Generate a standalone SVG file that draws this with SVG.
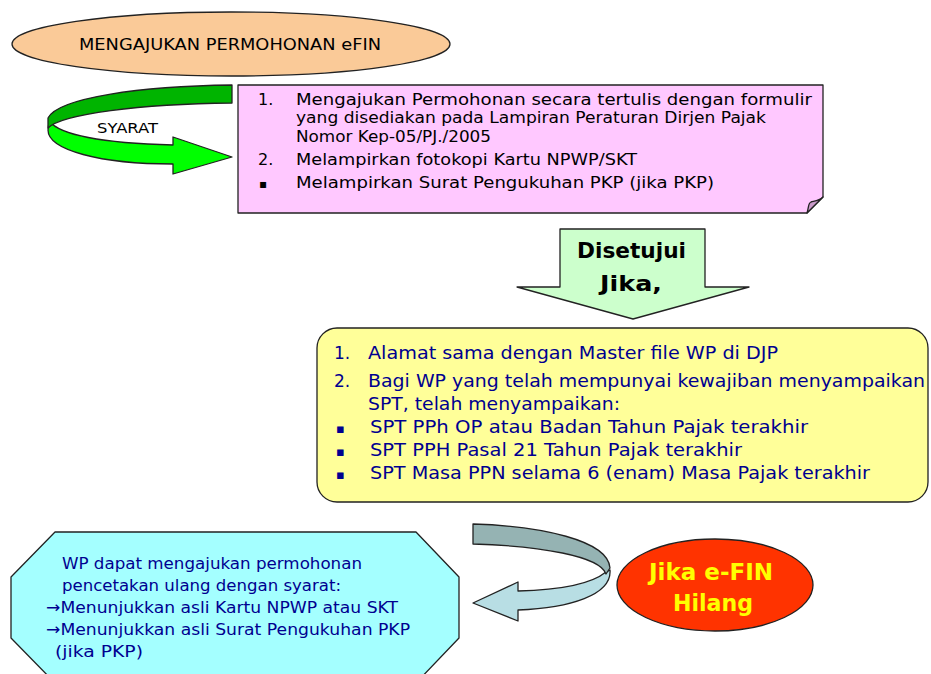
<svg xmlns="http://www.w3.org/2000/svg" width="931" height="674" viewBox="0 0 931 674">
<style>
.t{font-family:"DejaVu Sans","Liberation Sans",sans-serif;}
.blk{fill:#000;}
.nv{fill:#000090;}
.ln{stroke:#222;stroke-width:1.3;stroke-linejoin:round;}
.b{font-weight:bold;}
</style>
<rect width="931" height="674" fill="#fff"/>
<g id="connectors">
  <g id="syarat-arrow">
    <path class="ln" fill="#00FF00" d="M49,121 C60,135 100,143 173,145 L173,137 L232,157 L173,174 L173,164 C100,164 48,150 48,130 Z"/>
    <path class="ln" fill="#00B400" d="M232,85 C140,86 58,98 48,118 L48,128 C62,114 140,104 232,103 Z"/>
    <text class="t blk" x="97" y="133" font-size="14" textLength="61" lengthAdjust="spacingAndGlyphs">SYARAT</text>
  </g>
  <g id="hilang-arrow">
    <path class="ln" fill="#B8DEE4" d="M606,572 C590,585 560,590 518,591 L518,582 L473,603 L518,621 L518,610 C570,608 612,595 610,570 Z"/>
    <path class="ln" fill="#95B3B3" d="M473,524 C540,526 608,540 610,568 L606,574 C600,556 540,546 473,544 Z"/>
  </g>
</g>
<g id="node-mengajukan">
  <ellipse class="ln" cx="231" cy="44" rx="219" ry="32" fill="#FACA98"/>
  <text class="t blk" x="79" y="50" font-size="15" textLength="302" lengthAdjust="spacingAndGlyphs">MENGAJUKAN PERMOHONAN eFIN</text>
</g>
<g id="node-syarat-list">
  <path class="ln" fill="#FFC8FF" d="M238,85 H823 V197 L807,213 H238 Z"/>
  <path class="ln" fill="#C99AC9" d="M823,197 L807,213 C809,207 808,203 811,202 C815,201 819,201 823,197 Z"/>
  <g class="t blk" font-size="16">
    <text x="258" y="105">1.</text>
    <text x="296" y="105" textLength="516" lengthAdjust="spacingAndGlyphs">Mengajukan Permohonan secara tertulis dengan formulir</text>
    <text x="296" y="123" textLength="470" lengthAdjust="spacingAndGlyphs">yang disediakan pada Lampiran Peraturan Dirjen Pajak</text>
    <text x="296" y="142" textLength="195" lengthAdjust="spacingAndGlyphs">Nomor Kep-05/PJ./2005</text>
    <text x="258" y="165">2.</text>
    <text x="296" y="165" textLength="341" lengthAdjust="spacingAndGlyphs">Melampirkan fotokopi Kartu NPWP/SKT</text>
    <text x="259" y="188" font-size="12">▪</text>
    <text x="296" y="188" textLength="418" lengthAdjust="spacingAndGlyphs">Melampirkan Surat Pengukuhan PKP (jika PKP)</text>
  </g>
</g>
<g id="node-disetujui">
  <path class="ln" fill="#CCFFCC" d="M560,229 H705 V287 H749 L633,319 L517,287 H560 Z"/>
  <text class="t b blk" x="577" y="258" font-size="21" textLength="109" lengthAdjust="spacingAndGlyphs">Disetujui</text>
  <text class="t b blk" x="600" y="291" font-size="21" textLength="62" lengthAdjust="spacingAndGlyphs">Jika,</text>
</g>
<g id="node-syarat-persetujuan">
  <rect class="ln" x="317" y="328" width="611" height="174" rx="20" fill="#FFFF99"/>
  <g class="t nv" font-size="17">
    <text x="334" y="359">1.</text>
    <text x="368" y="359" textLength="410" lengthAdjust="spacingAndGlyphs">Alamat sama dengan Master file WP di DJP</text>
    <text x="334" y="387">2.</text>
    <text x="368" y="387" textLength="557" lengthAdjust="spacingAndGlyphs">Bagi WP yang telah mempunyai kewajiban menyampaikan</text>
    <text x="368" y="410" textLength="252" lengthAdjust="spacingAndGlyphs">SPT, telah menyampaikan:</text>
    <text x="336" y="433" font-size="13">▪</text>
    <text x="370" y="433" textLength="438" lengthAdjust="spacingAndGlyphs">SPT PPh OP atau Badan Tahun Pajak terakhir</text>
    <text x="336" y="456" font-size="13">▪</text>
    <text x="370" y="456" textLength="372" lengthAdjust="spacingAndGlyphs">SPT PPH Pasal 21 Tahun Pajak terakhir</text>
    <text x="336" y="479" font-size="13">▪</text>
    <text x="370" y="479" textLength="500" lengthAdjust="spacingAndGlyphs">SPT Masa PPN selama 6 (enam) Masa Pajak terakhir</text>
  </g>
</g>
<g id="node-hilang">
  <ellipse class="ln" cx="715" cy="585" rx="98" ry="46" fill="#FF3300"/>
  <text class="t b" fill="#FFFF00" x="649" y="580" font-size="23" textLength="124" lengthAdjust="spacingAndGlyphs">Jika e-FIN</text>
  <text class="t b" fill="#FFFF00" x="673" y="611" font-size="23" textLength="80" lengthAdjust="spacingAndGlyphs">Hilang</text>
</g>
<g id="node-cetak-ulang">
  <path class="ln" fill="#A4FFFF" d="M55,532 H416 L459,577 V638 L416,683 H55 L11,638 V577 Z"/>
  <g class="t nv" font-size="16">
    <text x="62" y="569" textLength="300" lengthAdjust="spacingAndGlyphs">WP dapat mengajukan permohonan</text>
    <text x="62" y="591" textLength="279" lengthAdjust="spacingAndGlyphs">pencetakan ulang dengan syarat:</text>
    <text x="46" y="613" textLength="352" lengthAdjust="spacingAndGlyphs">→Menunjukkan asli Kartu NPWP atau SKT</text>
    <text x="46" y="635" textLength="364" lengthAdjust="spacingAndGlyphs">→Menunjukkan asli Surat Pengukuhan PKP</text>
    <text x="55" y="657" textLength="88" lengthAdjust="spacingAndGlyphs">(jika PKP)</text>
  </g>
</g>
</svg>
